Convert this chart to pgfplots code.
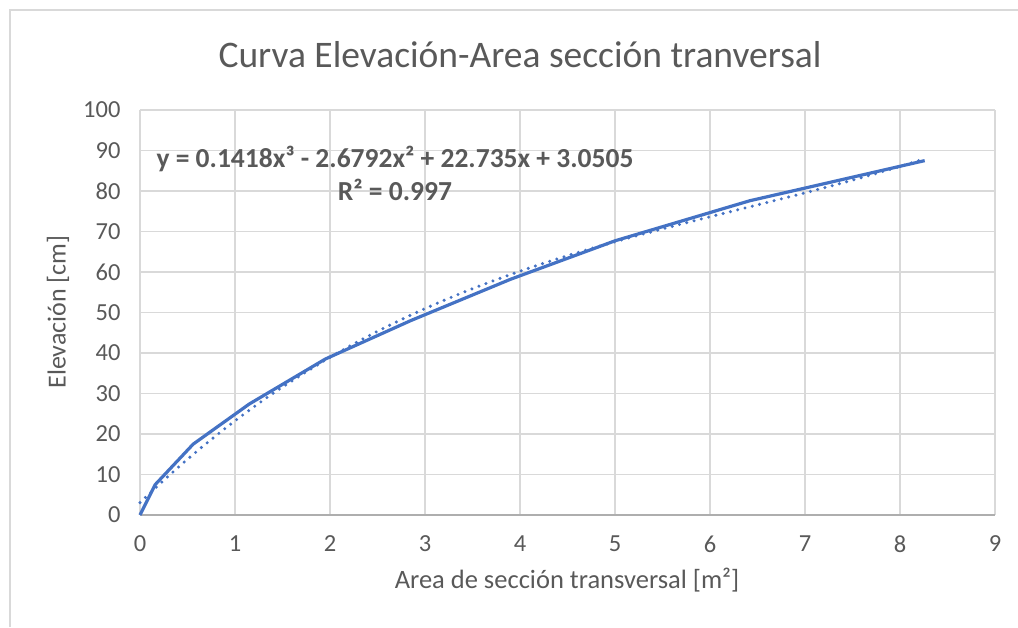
\documentclass[border=0pt]{standalone}
\usepackage{pgfplots}
\pgfplotsset{compat=1.18}
\usepackage{fontspec}
\setmainfont{Carlito}
\definecolor{txt}{HTML}{595959}
\definecolor{grd}{HTML}{D9D9D9}
\definecolor{ser}{HTML}{4472C4}
\begin{document}
\begin{tikzpicture}[x=1pt,y=1pt]
\path[use as bounding box] (-140,-112) rectangle (878,515);
\draw[grd, line width=1.5pt] (-130,-112) -- (-130,505) -- (878,505);
\begin{axis}[
  at={(0pt,0pt)}, anchor=south west,
  scale only axis, width=855pt, height=405pt,
  xmin=0, xmax=9, ymin=0, ymax=100,
  xtick={0,...,9}, ytick={0,10,...,100},
  grid=major,
  major grid style={grd, line width=1.5pt},
  axis line style={draw=none},
  major tick length=0pt,
  tick label style={font=\fontsize{24.5}{28}\selectfont, text=txt},
  /pgf/number format/assume math mode=true,
  xticklabel style={yshift=-17pt},
  yticklabel style={xshift=-16pt},
  clip=false,
]
\draw[grd!80!black, line width=1.5pt] (axis cs:0,0) -- (axis cs:9,0);
\addplot[ser, line width=3.2pt, line join=round] coordinates {
(0,0) (0.16,7.5) (0.56,17.5) (1.15,27.4) (1.95,38.5) (2.85,48.0) (3.9,58.2) (5.0,67.7) (6.42,77.6) (8.26,87.5)
};
\addplot[ser, line width=3.4pt, line cap=round, dash pattern=on 0pt off 7.5pt, smooth] coordinates {
(0,3.05) (0.25,8.57) (0.5,13.77) (0.75,18.65) (1,23.25) (1.25,27.56) (1.5,31.60) (2,38.94) (2.5,45.36) (3,50.97) (3.5,55.88) (4,60.20) (4.5,64.03) (5,67.47) (5.5,70.64) (6,73.64) (6.5,76.57) (7,79.55) (7.5,82.68) (8,86.06) (8.25,87.89)
};
\end{axis}
\node[text=txt, font=\fontsize{37.5}{42}\selectfont] at (380,460) {Curva Elevación-Area sección tranversal};
\node[text=txt, font=\fontsize{26.5}{30}\selectfont] at (427,-65) {Area de sección transversal [m²]};
\node[text=txt, font=\fontsize{26}{30}\selectfont, rotate=90] at (-82,203) {Elevación [cm]};
\node[text=txt, font=\bfseries\fontsize{27.5}{33}\selectfont, align=center] at (255,342) {y = 0.1418x³ - 2.6792x² + 22.735x + 3.0505\\R² = 0.997};
\end{tikzpicture}
\end{document}
